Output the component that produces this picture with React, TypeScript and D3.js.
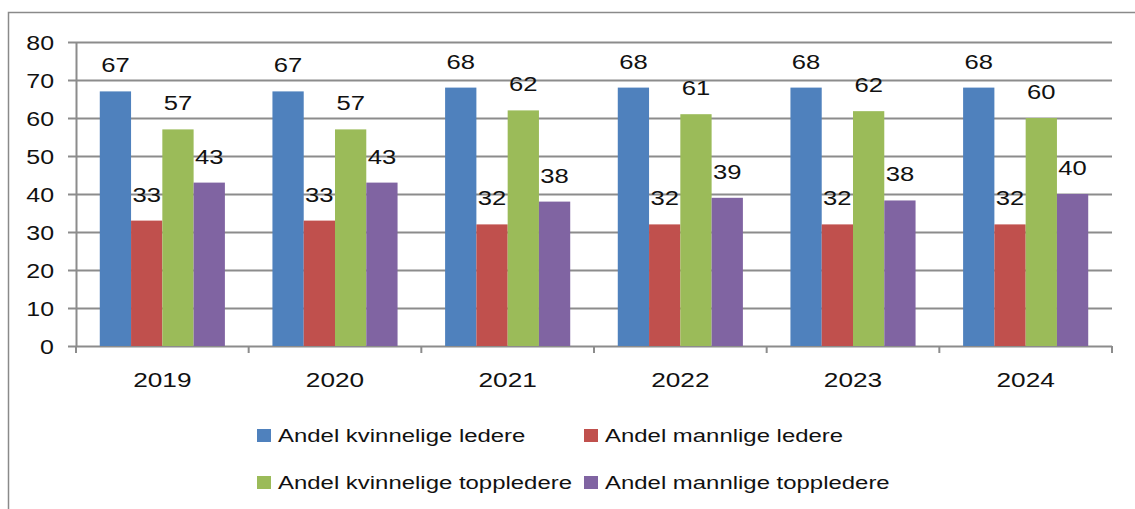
import React, { useEffect, useRef } from "react";
import * as d3 from "d3";

const years = ["2019", "2020", "2021", "2022", "2023", "2024"];
const kvinneligeLedere = [67, 67, 68, 68, 68, 68];
const mannligeLedere = [33, 33, 32, 32, 32, 32];
const kvinneligeToppledere = [57, 57, 62, 61, 61.8, 60];
const mannligeToppledere = [43, 43, 38, 39, 38.3, 40];
const seriesNames = [
  "Andel kvinnelige ledere",
  "Andel mannlige ledere",
  "Andel kvinnelige toppledere",
  "Andel mannlige toppledere",
];
const seriesColors = ["#4F81BD", "#C0504D", "#9BBB59", "#8064A2"];
const yTicks = [0, 10, 20, 30, 40, 50, 60, 70, 80];

const W = 1135;
const H = 509;
const SX = 1.28;

export default function App() {
  const ref = useRef<SVGSVGElement | null>(null);

  useEffect(() => {
    const svg = d3.select(ref.current);
    svg.selectAll("*").remove();
    const font = "'Liberation Sans', Arial, sans-serif";
    const series = [kvinneligeLedere, mannligeLedere, kvinneligeToppledere, mannligeToppledere];

    const txt = (x: number, y: number, s: string, size: number, anchor: string) =>
      svg.append("text")
        .attr("transform", `translate(${x},${y}) scale(${SX},1)`)
        .attr("text-anchor", anchor)
        .attr("font-family", font)
        .attr("font-size", size)
        .attr("fill", "#111")
        .text(s);

    const left = 76, right = 1112, top = 42, bottom = 346;
    const x = d3.scaleBand<string>().domain(years).range([left, right]).paddingInner(0).paddingOuter(0);
    const xs = d3.scaleBand<number>().domain([0, 1, 2, 3]).range([0, x.bandwidth()]).paddingOuter(0.76).paddingInner(0);
    const y = d3.scaleLinear().domain([0, 80]).range([bottom, top]);

    svg.append("rect").attr("width", W).attr("height", H).attr("fill", "#fff");
    // outer frame
    svg.append("rect").attr("x", 8.5).attr("y", 12.5).attr("width", W + 20).attr("height", H + 20)
      .attr("fill", "none").attr("stroke", "#8a8a8a").attr("stroke-width", 1.5);

    const grid = "#8c8c8c";
    yTicks.forEach((t) => {
      const yy = Math.round(y(t)) + 0.5;
      svg.append("line").attr("x1", 68).attr("x2", right).attr("y1", yy).attr("y2", yy)
        .attr("stroke", grid).attr("stroke-width", 2);
      txt(54, yy + 7, String(t), 19.5, "end");
    });
    svg.append("line").attr("x1", left + 0.5).attr("x2", left + 0.5).attr("y1", top).attr("y2", bottom + 1)
      .attr("stroke", grid).attr("stroke-width", 2);
    [...years.map((yr) => x(yr) as number), right].forEach((xx) => {
      svg.append("line").attr("x1", xx).attr("x2", xx).attr("y1", bottom).attr("y2", bottom + 7)
        .attr("stroke", grid).attr("stroke-width", 2);
    });

    years.forEach((yr, i) => {
      const x0 = x(yr) as number;
      series.forEach((s, j) => {
        const bx = x0 + (xs(j) as number);
        const v = s[i];
        svg.append("rect").attr("x", bx).attr("y", y(v)).attr("width", xs.bandwidth())
          .attr("height", y(0) - y(v)).attr("fill", seriesColors[j]);
        txt(bx + xs.bandwidth() / 2, y(v) - 19, String(Math.round(v)), 20, "middle");
      });
      txt(x0 + x.bandwidth() / 2, 387, yr, 20.5, "middle");
    });

    // legend
    const legendPos = [
      [257, 429, 278], [584, 429, 605], [257, 476, 278], [584, 476, 605],
    ];
    seriesNames.forEach((name, j) => {
      const [lx, ly, tx] = legendPos[j];
      svg.append("rect").attr("x", lx).attr("y", ly).attr("width", 14).attr("height", 13)
        .attr("fill", seriesColors[j]);
      txt(tx, ly + 13, name, 18.7, "start");
    });
  }, []);

  return (
    <svg ref={ref} width={W} height={H}
      style={{ position: "absolute", left: 0, top: 0, display: "block" }} />
  );
}
